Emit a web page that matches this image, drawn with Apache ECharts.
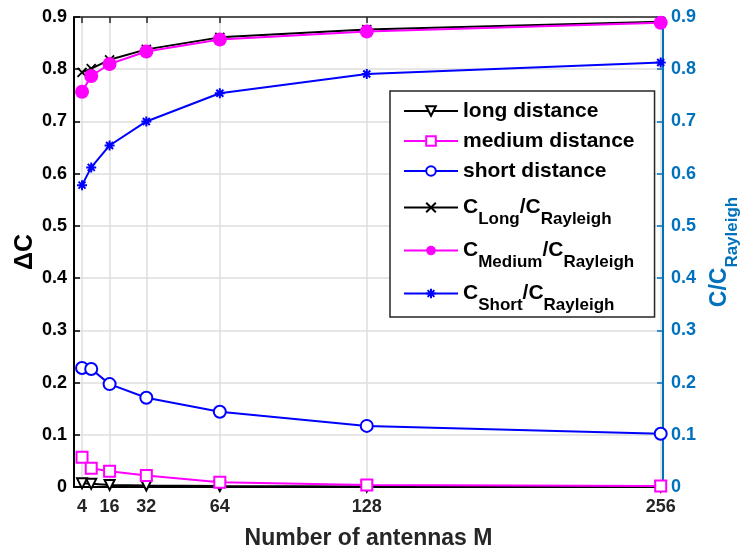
<!DOCTYPE html>
<html>
<head>
<meta charset="utf-8">
<script src="https://cdn.jsdelivr.net/npm/echarts@6/dist/echarts.min.js"></script>
<style>
  html, body { margin: 0; padding: 0; background: #fff; }
  #chart { width: 743px; height: 549px; }
</style>
</head>
<body>
<div id="chart"></div>
<script>
// Number of antennas M (x positions of every sample)
const antennas = [4, 8, 16, 32, 64, 128, 256];
// Tick values shown on the x axis
const xTicks = [4, 16, 32, 64, 128, 256];

// Capacity gap ΔC (left axis)
const longDistance   = [0.007, 0.006, 0.004, 0.003, 0.002, 0.001, 0.001];
const mediumDistance = [0.057, 0.036, 0.030, 0.022, 0.009, 0.004, 0.002];
const shortDistance  = [0.228, 0.226, 0.197, 0.171, 0.144, 0.117, 0.102];

// Capacity ratio C / C_Rayleigh (right axis)
const ratioLong   = [0.794, 0.801, 0.818, 0.838, 0.861, 0.876, 0.891];
const ratioMedium = [0.757, 0.787, 0.810, 0.834, 0.857, 0.872, 0.889];
const ratioShort  = [0.578, 0.612, 0.654, 0.700, 0.754, 0.791, 0.813];

const FONT = 'Liberation Sans, Arial, Helvetica, sans-serif';
const BLACK = '#000000';
const MAGENTA = '#FF00FF';
const BLUE = '#0000FF';
const AXIS_BLUE = '#0072BD';
const DARK = '#262626';
const GRID = '#dedede';

const pairs = v => antennas.map((m, i) => [m, v[i]]);

const crossPath = 'path://M0,0L10,10M10,0L0,10';
const starPath = 'path://M5,0L5,10M0,5L10,5M1.5,1.5L8.5,8.5M8.5,1.5L1.5,8.5';

function lineSeries(name, data, color, symbol, size, yAxisIndex, extra) {
  return Object.assign({
    name: name,
    type: 'line',
    yAxisIndex: yAxisIndex,
    data: pairs(data),
    symbol: symbol,
    symbolSize: size,
    showAllSymbol: true,
    animation: false,
    lineStyle: { color: color, width: 2 },
    itemStyle: { color: color, borderWidth: 1.6 },
    z: 3
  }, extra || {});
}

const series = [
  lineSeries('long distance', longDistance, BLACK, 'emptyTriangle', 10, 0,
    { symbolRotate: 180 }),
  lineSeries('medium distance', mediumDistance, MAGENTA, 'emptyRect', 11, 0),
  lineSeries('short distance', shortDistance, BLUE, 'emptyCircle', 12, 0),
  lineSeries('ratioLong', ratioLong, BLACK, crossPath, 9, 1,
    { itemStyle: { color: BLACK, borderColor: BLACK, borderWidth: 1.8 } }),
  lineSeries('ratioMedium', ratioMedium, MAGENTA, 'circle', 14, 1),
  lineSeries('ratioShort', ratioShort, BLUE, starPath, 10, 1,
    { itemStyle: { color: BLUE, borderColor: BLUE, borderWidth: 2 } })
];

const legendText = {
  ratioLong: 'C{sub|Long}/C{sub|Rayleigh}',
  ratioMedium: 'C{sub|Medium}/C{sub|Rayleigh}',
  ratioShort: 'C{sub|Short}/C{sub|Rayleigh}'
};

const chart = echarts.init(document.getElementById('chart'), null, { renderer: 'canvas' });

chart.setOption({
  backgroundColor: '#ffffff',
  animation: false,
  grid: { left: 74, right: 80, top: 17, bottom: 62, containLabel: false, outerBoundsMode: 'none' },
  legend: {
    orient: 'vertical',
    left: 390,
    top: 91,
    padding: [6, 20, 3, 13],
    itemGap: 2,
    itemWidth: 54,
    itemHeight: 12,
    selectedMode: false,
    backgroundColor: '#ffffff',
    borderColor: DARK,
    borderWidth: 1.5,
    borderRadius: 0,
    formatter: name => legendText[name] || name,
    textStyle: {
      color: BLACK,
      fontFamily: FONT,
      fontWeight: 'bold',
      fontSize: 21,
      lineHeight: 28,
      rich: {
        sub: {
          fontFamily: FONT,
          fontWeight: 'bold',
          fontSize: 17,
          lineHeight: 16,
          padding: [24, 0, 0, 0],
          color: BLACK
        }
      }
    },
    data: ['long distance', 'medium distance', 'short distance',
           'ratioLong', 'ratioMedium', 'ratioShort']
  },
  xAxis: [
    {
      type: 'value',
      min: 0.5,
      max: 257,
      position: 'bottom',
      name: 'Number of antennas M',
      nameLocation: 'middle',
      nameGap: 40,
      nameMoveOverlap: false,
      nameTextStyle: { color: DARK, fontFamily: FONT, fontWeight: 'bold', fontSize: 23 },
      axisLine: { show: true, onZero: false, lineStyle: { color: BLACK, width: 2 } },
      axisTick: { show: true, inside: true, length: 6, customValues: xTicks,
                  lineStyle: { color: BLACK, width: 1.5 } },
      axisLabel: { show: true, customValues: xTicks, margin: 11,
                   color: DARK, fontFamily: FONT, fontWeight: 'bold', fontSize: 18 },
      splitLine: { show: true, lineStyle: { color: GRID, width: 1.5 } }
    },
    {
      type: 'value',
      min: 0.5,
      max: 257,
      position: 'top',
      axisLine: { show: true, onZero: false, lineStyle: { color: DARK, width: 1.5 } },
      axisTick: { show: true, inside: true, length: 6, customValues: xTicks,
                  lineStyle: { color: DARK, width: 1.5 } },
      axisLabel: { show: false, customValues: xTicks },
      splitLine: { show: false }
    }
  ],
  yAxis: [
    {
      type: 'value',
      min: 0,
      max: 0.9,
      interval: 0.1,
      position: 'left',
      name: 'ΔC',
      nameLocation: 'middle',
      nameRotate: 90,
      nameGap: 36,
      nameMoveOverlap: false,
      nameTextStyle: { color: BLACK, fontFamily: FONT, fontWeight: 'bold', fontSize: 25 },
      axisLine: { show: true, onZero: false, lineStyle: { color: BLACK, width: 2 } },
      axisTick: { show: true, inside: true, length: 6, lineStyle: { color: BLACK, width: 1.5 } },
      axisLabel: { margin: 7, color: BLACK, fontFamily: FONT, fontWeight: 'bold', fontSize: 18,
                   formatter: v => (Math.round(v * 10) / 10).toString() },
      splitLine: { show: true, lineStyle: { color: GRID, width: 1.5 } }
    },
    {
      type: 'value',
      min: 0,
      max: 0.9,
      interval: 0.1,
      position: 'right',
      name: 'C/C{sub|Rayleigh}',
      nameLocation: 'middle',
      nameRotate: 90,
      nameGap: 46,
      nameMoveOverlap: false,
      nameTextStyle: {
        color: AXIS_BLUE, fontFamily: FONT, fontWeight: 'bold', fontSize: 23, lineHeight: 21,
        rich: {
          sub: { color: AXIS_BLUE, fontFamily: FONT, fontWeight: 'bold', fontSize: 17,
                 lineHeight: 17, padding: [26, 0, 0, 0] }
        }
      },
      axisLine: { show: true, onZero: false, lineStyle: { color: AXIS_BLUE, width: 2 } },
      axisTick: { show: true, inside: true, length: 6, lineStyle: { color: AXIS_BLUE, width: 1.5 } },
      axisLabel: { margin: 8, color: AXIS_BLUE, fontFamily: FONT, fontWeight: 'bold', fontSize: 18,
                   formatter: v => (Math.round(v * 10) / 10).toString() },
      splitLine: { show: false }
    }
  ],
  series: series
});
</script>
</body>
</html>
